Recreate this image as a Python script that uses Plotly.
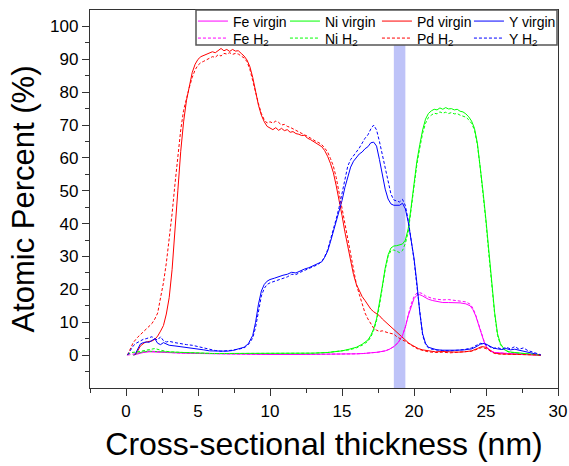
import plotly.graph_objects as go

# ---------------- data ----------------
pd_virgin_x = [0.6,0.8,1.0,1.3,1.5,1.8,2.0,2.2,2.4,2.6,2.8,3.0,3.2,3.4,3.6,3.8,4.0,4.2,4.4,4.6,4.8,5.0,5.2,5.4,5.6,5.8,6.0,6.2,6.4,6.6,6.8,7.0,7.2,7.4,7.6,7.8,8.0,8.2,8.4,8.6,8.8,9.0,9.2,9.4,9.6,9.8,10.0,10.2,10.4,10.6,10.8,11.0,11.2,11.4,11.6,11.8,12.0,12.2,12.4,12.6,12.8,13.0,13.2,13.4,13.6,13.8,14.0,14.2,14.4,14.6,14.8,15.0,15.2,15.4,15.6,15.8,16.0,16.2,16.4,16.6,16.8,17.0,17.2,17.4,17.6,17.8,18.0,18.2,18.4,18.6,18.8,19.0,19.2,19.4,19.6,19.8,20.0,20.3,20.6,21.0,21.5,22.0,22.5,23.0,23.5,24.0,24.4,24.7,25.0,25.3,25.6,26.0,26.5,27.0,27.5,28.0,28.4,28.8]
pd_virgin_y = [0,1.2,2.8,3.8,4.1,4.3,4.8,5.8,7.3,9.0,12.5,17.5,26,37,50,62,71,77.5,82,86,88.5,90,90.8,91.2,91.5,91.9,92.3,92.0,92.8,93.3,92.6,93.0,92.4,93.0,92.5,92.6,91.8,91.0,89.8,87.8,84.5,80,76,73,71,69.6,69.0,68.6,69.2,68.4,69.0,68.3,68.6,67.8,68.0,67.4,67.2,66.8,66.9,66.0,65.6,65.0,64.6,63.9,63.4,62.2,60.5,58.3,55.5,51.5,47.5,42.5,37.5,33,28.5,24.5,21.5,19.5,17.8,16.6,15.2,14.0,13.2,12.6,12.0,11.0,10.2,9.4,8.6,7.8,7.0,6.0,5.2,4.4,3.8,3.2,2.7,2.0,1.6,1.3,1.0,1.1,0.9,0.9,1.0,1.3,2.0,2.6,2.4,1.4,0.6,0.4,0.3,0.3,0.2,0.2,0.1,0]

pd_h2_x = [0.1,0.3,0.5,0.8,1.0,1.3,1.5,1.8,2.0,2.2,2.4,2.6,2.8,3.0,3.2,3.4,3.6,3.8,4.0,4.2,4.4,4.6,4.8,5.0,5.2,5.4,5.6,5.8,6.0,6.2,6.4,6.6,6.8,7.0,7.2,7.4,7.6,7.8,8.0,8.2,8.4,8.6,8.8,9.0,9.2,9.4,9.6,9.8,10.0,10.2,10.4,10.6,10.8,11.0,11.2,11.4,11.6,11.8,12.0,12.2,12.4,12.6,12.8,13.0,13.2,13.4,13.6,13.8,14.0,14.2,14.4,14.6,14.8,15.0,15.2,15.4,15.6,15.8,16.0,16.2,16.4,16.6,16.8,17.0,17.2,17.4,17.6,17.8,18.0,18.2,18.4,18.6,18.8,19.0,19.2,19.4,19.6,19.8,20.0,20.3,20.6,21.0,21.5,22.0,22.5,23.0,23.5,24.0,24.4,24.7,25.0,25.3,25.6,26.0,26.5,27.0,27.5,28.0,28.4,28.8]
pd_h2_y = [0,1.8,3.8,5.4,6.2,7.6,8.4,9.6,11.0,12.8,17.5,22,28,35,43,52,61,68.5,74.5,78.5,81.5,84.5,86.8,88.2,89.0,89.4,89.9,90.3,90.8,90.6,91.4,91.0,91.8,91.6,92.0,91.5,91.8,91.6,91.1,90.4,89.3,87.0,83.5,79.5,76.5,73.5,71.6,70.6,71.0,70.6,71.2,70.8,70.0,70.2,69.6,69.3,68.8,68.5,67.8,67.5,67.0,66.6,66.0,65.6,65.0,64.6,64.0,63.0,61.8,59.8,57.5,54.0,49.5,45.0,40.0,35.0,30.5,26.0,21.5,18.5,15.5,12.8,11.0,9.5,8.2,7.6,7.2,7.4,7.0,6.8,6.6,6.4,5.6,5.0,4.6,4.2,3.6,3.0,2.5,1.8,1.4,1.0,0.8,0.9,0.7,0.8,0.9,1.2,1.8,2.3,2.0,1.2,0.5,0.3,0.3,0.2,0.2,0.1,0.1,0]

y_virgin_x = [0.6,0.8,1.0,1.2,1.4,1.6,1.8,2.0,2.2,2.4,2.6,2.8,3.0,3.4,3.8,4.2,4.6,5.0,5.4,5.8,6.2,6.6,7.0,7.4,7.8,8.2,8.5,8.8,9.0,9.2,9.4,9.6,9.8,10.0,10.3,10.6,10.9,11.2,11.5,11.8,12.1,12.4,12.7,13.0,13.3,13.6,13.8,14.0,14.2,14.4,14.6,14.8,15.0,15.2,15.4,15.6,15.8,16.0,16.2,16.4,16.6,16.8,17.0,17.2,17.4,17.6,17.8,18.0,18.2,18.4,18.6,18.8,19.0,19.2,19.4,19.6,19.8,20.0,20.2,20.4,20.6,20.8,21.0,21.3,21.6,22.0,22.5,23.0,23.5,24.0,24.3,24.6,24.9,25.2,25.5,25.8,26.1,26.4,26.7,27.0,27.3,27.6,27.9,28.2,28.5,28.8]
y_virgin_y = [0,1.5,3.4,3.8,4.0,3.9,4.4,5.0,3.6,3.2,3.8,3.4,3.0,2.8,2.6,2.4,2.2,1.9,1.6,1.3,1.2,1.1,1.2,1.4,1.8,2.4,3.5,6.0,10.0,15.5,19.5,21.5,22.5,23.0,23.4,23.9,24.3,24.6,25.2,25.0,25.7,26.2,26.6,27.2,27.6,28.4,29.8,31.6,34.5,37.5,40.5,43.5,47,51,54.5,57.2,59.0,60.0,61.2,61.8,62.8,63.4,64.6,64.8,63.6,59.5,54.5,50.5,47.5,46.0,45.6,45.5,45.6,46.2,44.5,40.5,35.5,29.5,22,13,6.5,3.6,2.4,1.9,1.6,1.5,1.4,1.5,1.6,1.9,2.5,3.3,3.6,3.0,2.2,1.9,1.7,2.0,1.6,1.8,1.5,1.3,1.0,0.6,0.3,0]

y_h2_x = [0.1,0.3,0.5,0.7,1.0,1.2,1.4,1.6,1.8,2.0,2.2,2.4,2.6,2.8,3.0,3.4,3.8,4.2,4.6,5.0,5.4,5.8,6.2,6.6,7.0,7.4,7.8,8.2,8.5,8.8,9.0,9.2,9.4,9.6,9.8,10.0,10.3,10.6,10.9,11.2,11.5,11.8,12.1,12.4,12.7,13.0,13.3,13.6,13.8,14.0,14.2,14.4,14.6,14.8,15.0,15.2,15.4,15.6,15.8,16.0,16.2,16.4,16.6,16.8,17.0,17.2,17.4,17.6,17.8,18.0,18.2,18.4,18.6,18.8,19.0,19.2,19.4,19.6,19.8,20.0,20.2,20.4,20.6,20.8,21.0,21.3,21.6,22.0,22.5,23.0,23.5,24.0,24.3,24.6,24.9,25.2,25.5,25.8,26.1,26.4,26.7,27.0,27.3,27.6,27.9,28.2,28.5,28.8]
y_h2_y = [0,1.5,2.8,3.6,4.4,4.8,5.0,5.2,5.6,5.0,4.6,5.6,4.4,4.0,4.2,3.8,3.4,3.2,3.0,2.6,2.2,1.6,1.4,1.2,1.3,1.5,1.8,2.2,3.2,5.2,8.5,13.5,18.0,20.3,21.5,22.0,22.5,22.8,23.4,23.8,24.6,24.5,25.2,25.8,26.4,26.9,27.5,28.5,30.0,32.0,35.0,38.0,41.5,45.0,49,53.5,57.5,59.5,60.6,61.6,63.0,64.5,66.0,67.0,68.8,70.0,68.5,65.0,61.0,56.5,52.5,49.0,47.2,46.8,46.6,47.4,45.5,41.0,35.5,29.0,21.0,12.5,6.0,3.3,2.2,1.7,1.5,1.4,1.3,1.5,1.7,2.2,3.0,3.6,3.4,2.6,2.0,2.3,1.8,2.4,1.9,2.6,1.8,2.2,1.4,1.0,0.5,0.1]

ni_virgin_x = [0.5,0.8,1.2,1.6,2.0,2.5,3,4,5,6,7,8,9,10,11,12,13,14,14.5,15,15.5,16,16.4,16.8,17.0,17.2,17.4,17.6,17.8,18.0,18.2,18.4,18.6,18.8,19.0,19.2,19.4,19.6,19.8,20.0,20.2,20.4,20.6,20.8,21.0,21.2,21.4,21.6,21.8,22.0,22.2,22.4,22.6,22.8,23.0,23.2,23.4,23.6,23.8,24.0,24.2,24.4,24.6,24.8,25.0,25.2,25.4,25.6,25.8,26.0,26.3,26.6,27,27.5,28,28.4,28.8]
ni_virgin_y = [0,0.6,1.0,1.2,1.1,1.0,0.9,0.7,0.6,0.5,0.5,0.5,0.5,0.5,0.5,0.5,0.6,0.8,1.0,1.3,1.8,2.4,3.3,4.6,6.0,8.0,11.0,15.5,21,26.5,30.5,32.6,33.2,33.3,33.5,33.8,35.0,38.5,45,53,59,64,68.5,71.8,73.5,74.3,74.8,74.6,75.2,74.8,75.3,74.9,75.0,74.6,74.8,74.2,74.0,73.4,72.5,71.2,69.0,64.5,57.5,49.5,41,31,22,13,6.5,3.5,1.6,1.0,0.8,0.6,0.4,0.2,0]

ni_h2_x = [0.1,0.4,0.8,1.2,1.6,2.0,2.5,3,4,5,6,7,8,9,10,11,12,13,14,14.5,15,15.5,16,16.4,16.8,17.0,17.2,17.4,17.6,17.8,18.0,18.2,18.4,18.6,18.8,19.0,19.2,19.4,19.6,19.8,20.0,20.2,20.4,20.6,20.8,21.0,21.2,21.4,21.6,21.8,22.0,22.2,22.4,22.6,22.8,23.0,23.2,23.4,23.6,23.8,24.0,24.2,24.4,24.6,24.8,25.0,25.2,25.4,25.6,25.8,26.0,26.3,26.6,27,27.5,28,28.4,28.8]
ni_h2_y = [0.2,0.8,1.0,1.4,1.8,2.0,1.4,1.0,0.8,0.6,0.5,0.5,0.5,0.5,0.5,0.5,0.5,0.6,0.8,1.0,1.2,1.6,2.2,3.0,4.2,5.5,7.5,10.5,15.0,20.5,26.0,30.0,31.8,32.0,31.5,31.2,31.8,34.0,37.5,44,52,58,63,67.5,70.5,72.3,73.0,73.6,73.4,74.0,73.6,73.9,73.5,73.8,73.4,73.5,73.0,72.8,72.4,71.6,70.5,68.5,64,57,49,40.5,30.5,21.5,12.5,6.0,3.2,1.5,0.9,0.7,0.5,0.3,0.2,0]

fe_virgin_x = [0.5,0.8,1.2,1.6,2.0,2.5,3,4,5,6,8,10,12,14,15,16,16.5,17,17.5,18.0,18.3,18.6,18.9,19.2,19.4,19.6,19.8,20.0,20.2,20.4,20.6,20.8,21.0,21.3,21.6,22.0,22.4,22.8,23.2,23.6,23.9,24.1,24.3,24.5,24.7,24.9,25.1,25.3,25.6,26,26.5,27,27.5,28,28.4,28.8]
fe_virgin_y = [0,0.4,0.8,1.0,0.9,0.8,0.7,0.6,0.5,0.4,0.3,0.2,0.2,0.2,0.3,0.4,0.5,0.6,0.9,1.3,1.8,2.6,3.8,6.0,8.5,12.0,15.0,17.2,18.2,18.4,18.0,17.4,17.0,16.6,16.3,16.0,16.0,16.0,15.9,15.6,15.0,13.8,11.8,9.0,6.0,3.6,2.0,1.2,0.8,0.6,0.5,0.4,0.3,0.2,0.1,0]

fe_h2_x = [0.1,0.5,0.8,1.2,1.6,2.0,2.5,3,4,5,6,8,10,12,14,15,16,16.5,17,17.5,18.0,18.3,18.6,18.9,19.2,19.4,19.6,19.8,20.0,20.2,20.4,20.6,20.8,21.0,21.3,21.6,22.0,22.4,22.8,23.2,23.6,23.9,24.1,24.3,24.5,24.7,24.9,25.1,25.3,25.6,26,26.5,27,27.5,28,28.4,28.8]
fe_h2_y = [0,0.3,0.6,1.0,1.2,1.1,0.9,0.8,0.6,0.5,0.4,0.3,0.2,0.2,0.2,0.3,0.4,0.5,0.6,0.9,1.3,1.8,2.6,3.8,6.0,8.6,12.2,15.5,17.8,18.9,19.0,18.7,18.0,17.6,17.2,17.0,16.8,16.9,16.7,16.6,16.2,15.5,14.2,12.0,9.2,6.2,3.8,2.2,1.3,0.8,0.6,0.5,0.4,0.3,0.2,0.1,0]

band_x = [18.6, 19.4]

x_major = [0, 5, 10, 15, 20, 25, 30]
x_minor = [-2.5, 2.5, 7.5, 12.5, 17.5, 22.5, 27.5]
y_major = [0, 10, 20, 30, 40, 50, 60, 70, 80, 90, 100]
y_minor = [-5, 5, 15, 25, 35, 45, 55, 65, 75, 85, 95]

# ---------------- styling ----------------
FONT = "Liberation Sans, Arial, sans-serif"
AX = "#333333"
colors = {"Fe": "#FF00FF", "Ni": "#00FF00", "Pd": "#FF0000", "Y": "#0000FF"}

series = [
    ("Fe virgin", fe_virgin_x, fe_virgin_y, "Fe", "solid", "legend"),
    ("Ni virgin", ni_virgin_x, ni_virgin_y, "Ni", "solid", "legend"),
    ("Pd virgin", pd_virgin_x, pd_virgin_y, "Pd", "solid", "legend"),
    ("Y virgin", y_virgin_x, y_virgin_y, "Y", "solid", "legend"),
    ("Fe H<sub>2</sub>", fe_h2_x, fe_h2_y, "Fe", "3px,2px", "legend2"),
    ("Ni H<sub>2</sub>", ni_h2_x, ni_h2_y, "Ni", "3px,2px", "legend2"),
    ("Pd H<sub>2</sub>", pd_h2_x, pd_h2_y, "Pd", "3px,2px", "legend2"),
    ("Y H<sub>2</sub>", y_h2_x, y_h2_y, "Y", "3px,2px", "legend2"),
]

fig = go.Figure()
for name, xs, ys, el, dash, lg in series:
    fig.add_trace(go.Scatter(
        x=xs, y=ys, mode="lines", name=name, legend=lg,
        line=dict(color=colors[el], width=1, dash=dash),
    ))

# highlighted band
fig.add_shape(type="rect", xref="x", yref="paper", x0=band_x[0], x1=band_x[1],
              y0=0, y1=1, fillcolor="rgb(190,195,248)", line=dict(width=0), layer="below")
# legend box
fig.add_shape(type="rect", xref="paper", yref="paper", x0=0.2265, x1=0.9979,
              y0=0.9074, y1=1.0, fillcolor="white",
              line=dict(color="#555555", width=1.5), layer="above")

legend_common = dict(orientation="h", xanchor="left", yanchor="top",
                     bgcolor="rgba(0,0,0,0)", borderwidth=0,
                     font=dict(family=FONT, size=14, color="black"),
                     entrywidth=47, entrywidthmode="pixels", itemwidth=30,
                     tracegroupgap=0)

fig.update_layout(
    width=569, height=466,
    margin=dict(l=90, r=11, t=10, b=78, autoexpand=False),
    paper_bgcolor="white", plot_bgcolor="white",
    font=dict(family=FONT, color="black"),
    legend=dict(x=0.220, y=1.012, **legend_common),
    legend2=dict(x=0.220, y=0.967, **legend_common),
    xaxis=dict(
        range=[-2.5, 30], showgrid=False, zeroline=False,
        showline=True, linecolor=AX, linewidth=1.3, mirror=True,
        tickmode="array", tickvals=x_major, ticktext=[str(v) for v in x_major],
        ticks="outside", ticklen=7, tickwidth=1.2, tickcolor=AX,
        tickfont=dict(family=FONT, size=17, color="black"),
        minor=dict(tickmode="array", tickvals=x_minor, ticks="outside",
                   ticklen=4, tickwidth=1.2, tickcolor=AX),
        title=dict(text="Cross-sectional thickness (nm)",
                   font=dict(family=FONT, size=32, color="black"), standoff=13),
    ),
    yaxis=dict(
        range=[-10, 105], showgrid=False, zeroline=False,
        showline=True, linecolor=AX, linewidth=1.3, mirror=True,
        tickmode="array", tickvals=y_major, ticktext=[str(v) for v in y_major],
        ticks="outside", ticklen=7, tickwidth=1.2, tickcolor=AX,
        tickfont=dict(family=FONT, size=17, color="black"),
        minor=dict(tickmode="array", tickvals=y_minor, ticks="outside",
                   ticklen=4, tickwidth=1.2, tickcolor=AX),
        title=dict(text="Atomic Percent (%)",
                   font=dict(family=FONT, size=31, color="black"), standoff=6),
    ),
)

fig.write_html("out.html")
